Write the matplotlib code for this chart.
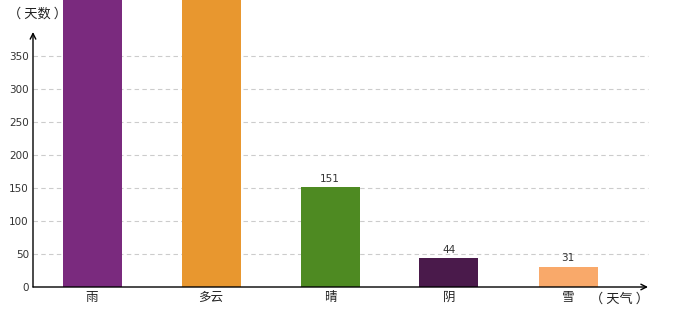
import matplotlib
matplotlib.use("Agg")
import matplotlib.pyplot as plt

plt.rcParams['font.family'] = ['Noto Sans CJK SC', 'DejaVu Sans']

categories = ['雨', '多云', '晴', '阴', '雪']
values = [470, 455, 151, 44, 31]
colors = ['#7a2a7e', '#e8972f', '#4e8a22', '#4a1a4b', '#f9a96a']
yticks = [0, 50, 100, 150, 200, 250, 300, 350]

W, H = 680, 320
fig = plt.figure(figsize=(W/100, H/100), dpi=100)
x0, y0 = 33, 287
ax = fig.add_axes([x0/W, (H-y0)/H, (W-x0)/W, y0/H])
ppu = 231/350
ymax = y0/ppu
ax.set_ylim(0, ymax)
xl = (x0-92)/119
xr = xl + (W-x0)/119
ax.set_xlim(xl, xr)
ax.set_facecolor('none')

xs = list(range(len(categories)))
ax.bar(xs, values, width=59/119, color=colors, zorder=3)
for x, v in zip(xs, values):
    if v + 30 < ymax:  # labels of bars running off the top are not visible
        ax.text(x, v+5, str(v), ha='center', va='bottom', fontsize=7.5, color='#333333',
                family='DejaVu Sans', zorder=4)

xend = (648-92)/119
for t in yticks[1:]:
    ax.plot([xl, xend], [t, t], color='#cccccc', lw=0.8, ls=(0, (4, 3)), zorder=1)

for s in ax.spines.values():
    s.set_visible(False)
ax.set_yticks(yticks)
ax.set_yticklabels([str(t) for t in yticks], fontsize=7.5, color='#333333', family='DejaVu Sans')
ax.set_xticks(xs)
ax.set_xticklabels(categories, fontsize=9, color='#222222')
ax.tick_params(axis='both', length=0, pad=3)

ytop = (y0-32)/ppu
ax.annotate('', xy=(xl, ytop), xytext=(xl, 0),
            arrowprops=dict(arrowstyle='->', lw=1, color='black', shrinkA=0, shrinkB=0), annotation_clip=False)
ax.annotate('', xy=(xend, 0), xytext=(xl, 0),
            arrowprops=dict(arrowstyle='->', lw=1, color='black', shrinkA=0, shrinkB=0), annotation_clip=False)

fig.text(37/W, 1-14/H, '（ 天数 ）', ha='center', va='center', fontsize=9.5, color='#222222')
fig.text(620/W, 1-299/H, '（ 天气 ）', ha='center', va='center', fontsize=9.5, color='#222222')

fig.savefig('out.png', dpi=100)
